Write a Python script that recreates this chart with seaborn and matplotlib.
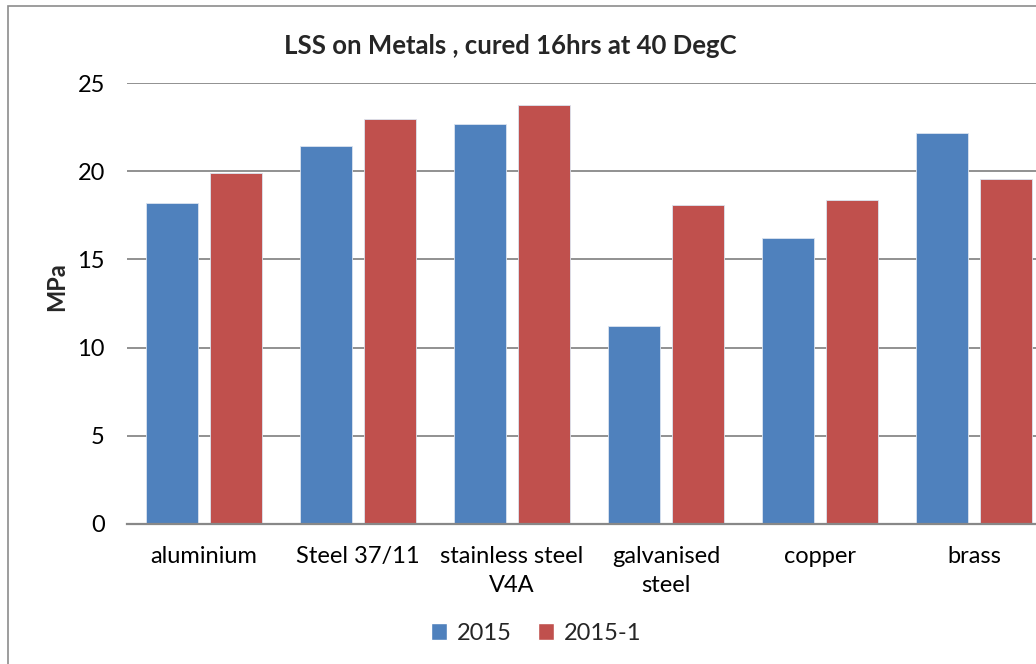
import matplotlib
matplotlib.use("Agg")
import matplotlib.pyplot as plt
import pandas as pd
import seaborn as sns
from matplotlib.patches import Patch, Rectangle

materials = ["aluminium", "Steel 37/11", "stainless steel\nV4A", "galvanised\nsteel", "copper", "brass"]
series = ["2015", "2015-1"]
lss_2015 = [18.2, 21.45, 22.67, 11.2, 16.24, 22.16]
lss_2015_1 = [19.92, 22.95, 23.73, 18.08, 18.36, 19.55]
y_ticks = [0, 5, 10, 15, 20, 25]

_blue = "#4F81BD"
_red = "#C0504D"
_grid = "#888888"

sns.set_theme(style="white")
plt.rcParams["font.family"] = ["Lato", "DejaVu Sans"]

df = pd.DataFrame({
    "material": materials * 2,
    "series": [series[0]] * len(materials) + [series[1]] * len(materials),
    "MPa": lss_2015 + lss_2015_1,
})

fig = plt.figure(figsize=(10.36, 6.64), dpi=100)
ax = fig.add_axes([127 / 1036, (664 - 524) / 664, 909 / 1036, 441 / 664])

sns.barplot(data=df, x="material", y="MPa", hue="series", order=materials,
            palette=[_blue, _red], saturation=1, width=0.83, gap=0.2, legend=False,
            edgecolor="#dbe4f0", linewidth=0.6, ax=ax, zorder=3)

ax.set_xlim(-0.5, -0.5 + 909 / 154)
ax.set_ylim(0, 25)
ax.set_yticks(y_ticks)
ax.yaxis.grid(True, color=_grid, linewidth=1.3)
ax.set_axisbelow(True)
for side in ["left", "right", "top"]:
    ax.spines[side].set_visible(False)
ax.spines["bottom"].set_color(_grid)
ax.spines["bottom"].set_linewidth(1.6)
ax.spines["bottom"].set_zorder(4)
ax.tick_params(axis="both", length=0, labelsize=17, colors="black")
ax.tick_params(axis="y", pad=16)
ax.tick_params(axis="x", pad=16)
ax.set_xlabel("")
ax.set_ylabel("")
for lbl in ax.get_xticklabels():
    lbl.set_linespacing(1.45)

fig.text(510 / 1036, 1 - 46 / 664, "LSS on Metals , cured 16hrs at 40 DegC",
         ha="center", va="center", fontsize=18.5, fontweight="bold")
fig.text(57 / 1036, 1 - 287 / 664, "MPa", rotation=90, ha="center", va="center",
         fontsize=17, fontweight="bold")

handles = [Patch(facecolor=_blue, label=series[0]), Patch(facecolor=_red, label=series[1])]
fig.legend(handles=handles, loc="center", bbox_to_anchor=(536 / 1036, 1 - 633 / 664),
           ncol=2, frameon=False, fontsize=17, handlelength=0.7, handleheight=0.7,
           handletextpad=0.4, columnspacing=1.1)

fig.patches.append(Rectangle((8 / 1036, -0.05), 1.2, 1 - 6 / 664 + 0.05,
                             transform=fig.transFigure, fill=False,
                             edgecolor="#8c8c8c", linewidth=1.2))

fig.savefig("out.png", dpi=100)
